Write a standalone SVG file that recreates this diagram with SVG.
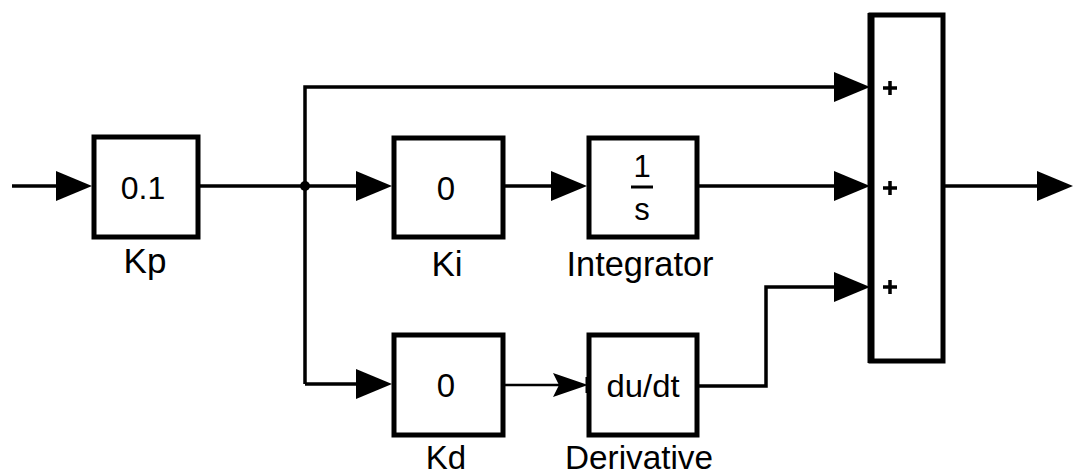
<svg xmlns="http://www.w3.org/2000/svg" width="1073" height="475" viewBox="0 0 1073 475">
<style>
.blk{fill:#fff;stroke:#000;stroke-width:5}
.wire{fill:none;stroke:#000;stroke-width:3.5}
.thin{fill:none;stroke:#000;stroke-width:2.5}
.t{font-family:"Liberation Sans",Arial,sans-serif;fill:#000;text-anchor:middle}
.plus{stroke:#000;stroke-width:3.5}
</style>
<defs>
<marker id="arr" markerUnits="userSpaceOnUse" markerWidth="36" markerHeight="32" refX="26" refY="16" orient="auto">
<path d="M0,1 L36,16 L0,31 z" fill="#000"/>
</marker>
</defs>
<rect width="1073" height="475" fill="#fff"/>
<g id="connectors">
<path class="wire" d="M12,186 H82" marker-end="url(#arr)"/>
<path class="wire" d="M198,186 H305"/>
<path class="wire" d="M305,186 H382" marker-end="url(#arr)"/>
<path class="wire" d="M305,384 V87 H860" marker-end="url(#arr)"/>
<path class="wire" d="M305,384 H382" marker-end="url(#arr)"/>
<path class="wire" d="M503,186 H577" marker-end="url(#arr)"/>
<path class="wire" d="M697,186 H860" marker-end="url(#arr)"/>
<path class="wire" d="M697,386 H766 V287 H860" marker-end="url(#arr)"/>
<path class="wire" d="M944,186 H1063" marker-end="url(#arr)"/>
<circle cx="305" cy="186" r="5" fill="#000"/>
<path class="thin" d="M503,385 H562"/>
<path d="M503,377 V393" stroke="#000" stroke-width="3"/>
<path d="M553,373 L588,385 L553,397 L559,385 z" fill="#000"/>
<path d="M587,377 V393" stroke="#000" stroke-width="3"/>
</g>
<g id="kp">
<rect class="blk" x="94" y="137" width="104" height="100"/>
<text class="t" x="143" y="199" font-size="32">0.1</text>
<text class="t" x="145" y="273" font-size="35">Kp</text>
</g>
<g id="ki">
<rect class="blk" x="394" y="138" width="109" height="99"/>
<text class="t" x="446" y="200" font-size="33">0</text>
<text class="t" x="447" y="276" font-size="35">Ki</text>
</g>
<g id="integrator">
<rect class="blk" x="589" y="138" width="108" height="99"/>
<text class="t" x="642" y="177" font-size="31">1</text>
<path d="M631,187 H653" stroke="#000" stroke-width="3"/>
<text class="t" x="642" y="220" font-size="31">s</text>
<text class="t" x="640" y="276" font-size="35" textLength="147" lengthAdjust="spacingAndGlyphs">Integrator</text>
</g>
<g id="kd">
<rect class="blk" x="394" y="335" width="109" height="100"/>
<text class="t" x="446" y="397" font-size="33">0</text>
<text class="t" x="446" y="469" font-size="33">Kd</text>
</g>
<g id="derivative">
<rect class="blk" x="589" y="335" width="108" height="100"/>
<text class="t" x="643" y="397" font-size="32" textLength="73" lengthAdjust="spacingAndGlyphs">du/dt</text>
<text class="t" x="639" y="469" font-size="33" textLength="148" lengthAdjust="spacingAndGlyphs">Derivative</text>
</g>
<g id="sum">
<rect class="blk" x="871" y="15" width="72" height="346"/>
<path d="M871,13 V363" stroke="#000" stroke-width="7"/>
<path class="plus" d="M883,88 H897 M890,81 V95"/>
<path class="plus" d="M883,188 H897 M890,181 V195"/>
<path class="plus" d="M883,287 H897 M890,280 V294"/>
</g>
</svg>
